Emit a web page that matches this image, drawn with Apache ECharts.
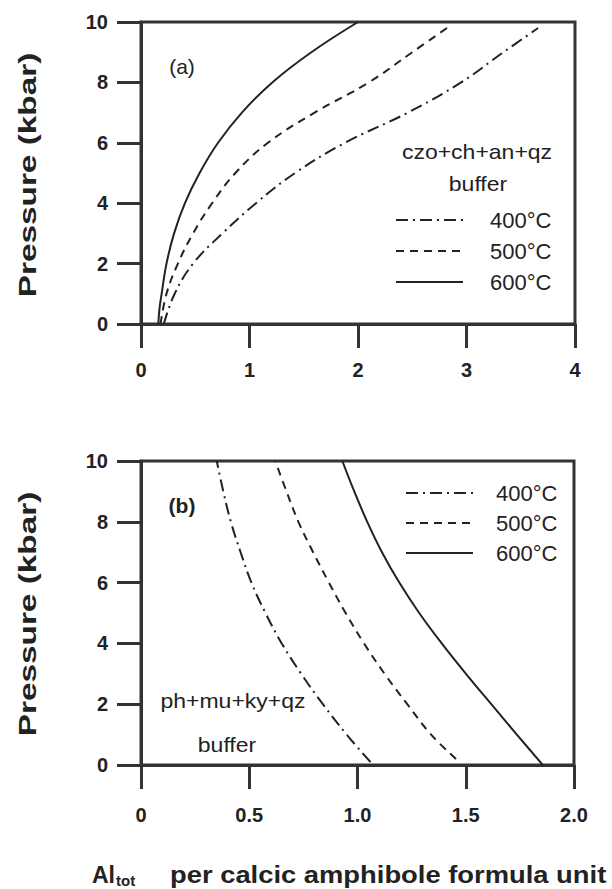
<!DOCTYPE html>
<html>
<head>
<meta charset="utf-8">
<script src="https://cdn.jsdelivr.net/npm/echarts@6/dist/echarts.min.js"></script>
<style>
  html, body { margin: 0; padding: 0; background: #fff; }
  #main { width: 612px; height: 889px; }
</style>
</head>
<body>
<div id="main"></div>
<script>
// (a) czo+ch+an+qz buffer : pressure (kbar) vs Al tot
var pA400 = [0, 1, 2, 3, 4, 5, 6, 7, 8, 9, 9.8];
var xA400 = [0.21, 0.31, 0.48, 0.75, 1.06, 1.42, 1.88, 2.46, 2.95, 3.34, 3.66];
var pA500 = [0, 1, 2, 3, 4, 5, 6, 7, 8, 9, 9.85];
var xA500 = [0.18, 0.235, 0.34, 0.48, 0.655, 0.87, 1.17, 1.6, 2.1, 2.5, 2.84];
var pA600 = [0, 0.5, 1, 2, 3, 4, 5, 6, 7, 8, 9, 10];
var xA600 = [0.16, 0.17, 0.19, 0.235, 0.305, 0.405, 0.54, 0.71, 0.93, 1.21, 1.57, 2.0];

// (b) ph+mu+ky+qz buffer
var pB400 = [0.1, 1, 2, 3, 4, 5, 6, 7, 8, 9, 10];
var xB400 = [1.06, 0.95, 0.84, 0.74, 0.65, 0.575, 0.51, 0.46, 0.415, 0.38, 0.35];
var pB500 = [0.2, 1, 2, 3, 4, 5, 6, 7, 8, 9, 10];
var xB500 = [1.455, 1.34, 1.23, 1.125, 1.03, 0.945, 0.868, 0.795, 0.727, 0.672, 0.62];
var pB600 = [0, 1, 2, 3, 4, 5, 6, 7, 8, 9, 10];
var xB600 = [1.856, 1.736, 1.618, 1.501, 1.389, 1.285, 1.193, 1.113, 1.045, 0.985, 0.93];

var names = ['400°C', '500°C', '600°C'];
var dashes = [[12, 5, 2, 5], [8, 6], 'solid'];

var xTicksA = [0, 1, 2, 3, 4];
var xTicksB = [0, 0.5, 1.0, 1.5, 2.0];
var yTicks = [0, 2, 4, 6, 8, 10];

function pairs(xs, ps) {
    var out = [];
    for (var i = 0; i < xs.length; i++) {
        out.push([xs[i], ps[i]]);
    }
    return out;
}

var ink = '#222';
var frame = '#333';

function xAxisOf(grid, ticks, margin) {
    return {
        gridIndex: grid, type: 'value',
        min: ticks[0], max: ticks[ticks.length - 1], interval: ticks[1] - ticks[0],
        axisLine: { show: true, lineStyle: { color: frame, width: 3 } },
        axisTick: { show: true, inside: false, length: 24, lineStyle: { color: frame, width: 3 } },
        axisLabel: {
            margin: margin, color: ink, fontSize: 20, fontWeight: 'bold',
            fontFamily: 'Liberation Sans',
            formatter: function (v) { return grid === 1 && v !== 0 ? v.toFixed(1) : String(v); }
        },
        splitLine: { show: false }
    };
}
function yAxisOf(grid) {
    return {
        gridIndex: grid, type: 'value', min: yTicks[0], max: yTicks[yTicks.length - 1], interval: 2,
        axisLine: { show: true, lineStyle: { color: frame, width: 3 } },
        axisTick: { show: true, inside: false, length: 24, lineStyle: { color: frame, width: 3 } },
        axisLabel: { margin: 33, color: ink, fontSize: 20, fontWeight: 'bold', fontFamily: 'Liberation Sans' },
        splitLine: { show: false }
    };
}
function lineOf(name, idx, data, dash) {
    return {
        name: name, type: 'line', xAxisIndex: idx, yAxisIndex: idx,
        data: data, smooth: 0.4, symbol: 'none', silent: true,
        itemStyle: { color: ink, opacity: 0 },
        lineStyle: { color: ink, width: 2, type: dash }
    };
}
function txt(s, x, y, opts) {
    opts = opts || {};
    return {
        type: 'text', x: x, y: y,
        rotation: opts.rot || 0, scaleX: opts.sx || 1, scaleY: 1,
        style: {
            text: s, fill: ink,
            font: opts.font || '20px "Liberation Sans", Arial, sans-serif',
            textAlign: opts.align || 'center', align: opts.align || 'center',
            textVerticalAlign: 'middle', verticalAlign: 'middle'
        }
    };
}
function legendOf(left, top, gap, pad) {
    return {
        data: names, orient: 'vertical', left: left, top: top,
        itemWidth: 67, itemHeight: 14, itemGap: gap, selectedMode: false,
        itemStyle: { opacity: 0 },
        textStyle: { color: ink, fontSize: 22, fontFamily: 'Liberation Sans', padding: [0, 0, 0, pad] }
    };
}

var chart = echarts.init(document.getElementById('main'), null, { renderer: 'svg' });
chart.setOption({
    animation: false,
    backgroundColor: '#fff',
    grid: [
        { left: 141, top: 22, width: 434, height: 302, show: true, borderColor: frame, borderWidth: 3 },
        { left: 141, top: 461, width: 433, height: 304, show: true, borderColor: frame, borderWidth: 3 }
    ],
    xAxis: [xAxisOf(0, xTicksA, 36), xAxisOf(1, xTicksB, 40)],
    yAxis: [yAxisOf(0), yAxisOf(1)],
    legend: [legendOf(390, 204, 9, 22), legendOf(400, 477, 8, 18)],
    series: [
        lineOf(names[0], 0, pairs(xA400, pA400), dashes[0]),
        lineOf(names[1], 0, pairs(xA500, pA500), dashes[1]),
        lineOf(names[2], 0, pairs(xA600, pA600), dashes[2]),
        lineOf(names[0], 1, pairs(xB400, pB400), dashes[0]),
        lineOf(names[1], 1, pairs(xB500, pB500), dashes[1]),
        lineOf(names[2], 1, pairs(xB600, pB600), dashes[2])
    ],
    graphic: [
        txt('(a)', 182, 66, { font: '21px "Liberation Sans", Arial, sans-serif' }),
        txt('czo+ch+an+qz', 477, 152, { sx: 1.15 }),
        txt('buffer', 478, 184, { sx: 1.15 }),
        txt('(b)', 182, 505, { font: 'bold 21px "Liberation Sans", Arial, sans-serif' }),
        txt('ph+mu+ky+qz', 233, 701, { sx: 1.15 }),
        txt('buffer', 227, 745, { sx: 1.15 }),
        txt('Pressure (kbar)', 28, 175, { rot: Math.PI / 2, sx: 1.45, font: 'bold 23px "Liberation Sans", Arial, sans-serif' }),
        txt('Pressure (kbar)', 28, 614, { rot: Math.PI / 2, sx: 1.45, font: 'bold 23px "Liberation Sans", Arial, sans-serif' }),
        txt('Al', 92, 875, { align: 'left', font: 'bold 23px "Liberation Sans", Arial, sans-serif' }),
        txt('tot', 116, 880, { align: 'left', font: 'bold 15px "Liberation Sans", Arial, sans-serif' }),
        txt('per calcic amphibole formula unit', 170, 875, { align: 'left', sx: 1.19, font: 'bold 23px "Liberation Sans", Arial, sans-serif' })
    ]
});
</script>
</body>
</html>
